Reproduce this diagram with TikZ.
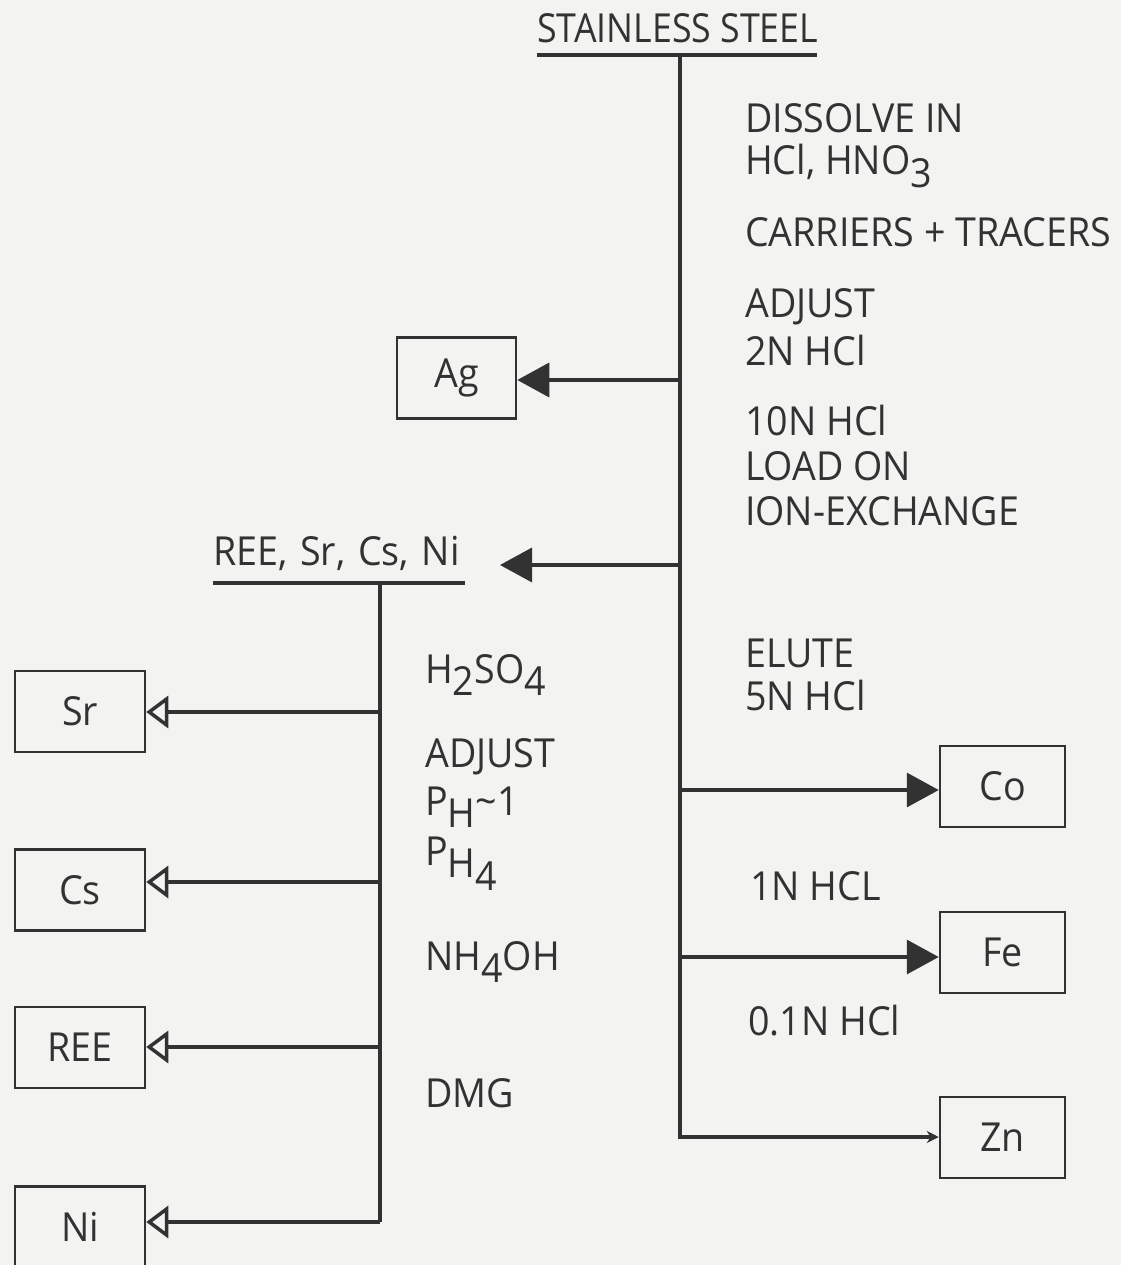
\documentclass[tikz,border=0pt]{standalone}
\usepackage{fontspec}
\setmainfont{Open Sans}[FakeStretch=0.94]
\usetikzlibrary{arrows.meta}
\definecolor{ink}{RGB}{50,50,50}
\definecolor{paper}{RGB}{243,243,241}
\newcommand\lowsub[1]{\raisebox{-0.6ex}{#1}}
\begin{document}
\begin{tikzpicture}[x=1pt,y=-1pt,
  lbl/.style={anchor=base west, inner sep=0pt, text=ink, font=\fontsize{40}{40}\selectfont},
  box/.style={draw=ink, line width=2.5pt, minimum height=81pt, inner sep=0pt, text=ink, font=\fontsize{40}{40}\selectfont},
  flow/.style={draw=ink, line width=3.5pt},
  solidtip/.style={-{Triangle[length=32pt,width=34pt]}},
  opentip/.style={-{Triangle[open,length=22pt,width=32pt,line width=3.5pt]}},
  smalltip/.style={-{Stealth[length=12pt,width=12pt]}}
]
\fill[paper] (0,0) rectangle (1121,1265);
\useasboundingbox (0,0) rectangle (1121,1265);

% texts
\node[lbl] (ss) at (537,43) {\scalebox{0.95}[1]{STAINLESS STEEL}};
\node[lbl] (r1) at (745,133) {DISSOLVE IN};
\node[lbl] (r2) at (745,175) {HCl, HNO\lowsub{3}};
\node[lbl] (r3) at (745,247) {CARRIERS + TRACERS};
\node[lbl] (r4) at (745,317) {ADJUST};
\node[lbl] (r5) at (745,365) {2N HCl};
\node[lbl] (r6) at (745,435) {10N HCl};
\node[lbl] (r7) at (745,480) {LOAD ON};
\node[lbl] (r8) at (745,525) {ION-EXCHANGE};
\node[lbl] (r9) at (745,667) {ELUTE};
\node[lbl] (r10) at (745,710) {5N HCl};
\node[lbl] (r11) at (750,900) {1N HCL};
\node[lbl] (r12) at (748,1035) {0.1N HCl};
\node[lbl] (mix) at (213,565) {REE,\hspace{0.32em}Sr,\hspace{0.32em}Cs,\hspace{0.32em}Ni};
\node[lbl] (l1) at (425,683) {H\lowsub{2}SO\lowsub{4}};
\node[lbl] (l2) at (425,767) {ADJUST};
\node[lbl] (l3) at (425,815) {P\lowsub{H}\textasciitilde 1};
\node[lbl] (l4) at (425,865) {P\lowsub{H\lowsub{4}}};
\node[lbl] (l5) at (425,970) {NH\lowsub{4}OH};
\node[lbl] (l6) at (425,1107) {DMG};

% boxes
\node[box, minimum width=119pt] (ag) at (456.5,378) {Ag};
\node[box, minimum width=125pt] (co) at (1002.5,786.5) {Co};
\node[box, minimum width=125pt] (fe) at (1002.5,952.5) {Fe};
\node[box, minimum width=125pt] (zn) at (1002.5,1137.5) {Zn};
\node[box, minimum width=130pt] (sr) at (80,711.5) {Sr};
\node[box, minimum width=130pt] (cs) at (80,890) {Cs};
\node[box, minimum width=130pt] (ree) at (80,1047.5) {REE};
\node[box, minimum width=130pt] (ni) at (80,1227) {Ni};

% coordinates
\coordinate (ssL) at (537,55);
\coordinate (ssR) at (817,55);
\coordinate (t0) at (680,55);
\coordinate (tAg) at (680,380);
\coordinate (tMix) at (680,565);
\coordinate (mixIn) at (500,565);
\coordinate (tCo) at (680,790);
\coordinate (tFe) at (680,957);
\coordinate (tZn) at (680,1137);
\coordinate (mL) at (213,583);
\coordinate (mR) at (465,583);
\coordinate (s0) at (380,583);
\coordinate (sSr) at (380,712);
\coordinate (sCs) at (380,882);
\coordinate (sRee) at (380,1047);
\coordinate (sNi) at (380,1222);

% connectors
\draw[flow] (ssL) -- (ssR);
\draw[flow, smalltip] (t0) -- (tZn) -- (tZn -| zn.west);
\draw[flow, solidtip] (tAg) -- (tAg -| ag.east);
\draw[flow, solidtip] (tMix) -- (mixIn);
\draw[flow, solidtip] (tCo) -- (tCo -| co.west);
\draw[flow, solidtip] (tFe) -- (tFe -| fe.west);
\draw[flow] (mL) -- (mR);
\draw[flow] (s0) -- (sNi);
\draw[flow, opentip] (sSr) -- (sSr -| sr.east);
\draw[flow, opentip] (sCs) -- (sCs -| cs.east);
\draw[flow, opentip] (sRee) -- (sRee -| ree.east);
\draw[flow, opentip] (sNi) -- (sNi -| ni.east);
\end{tikzpicture}
\end{document}
